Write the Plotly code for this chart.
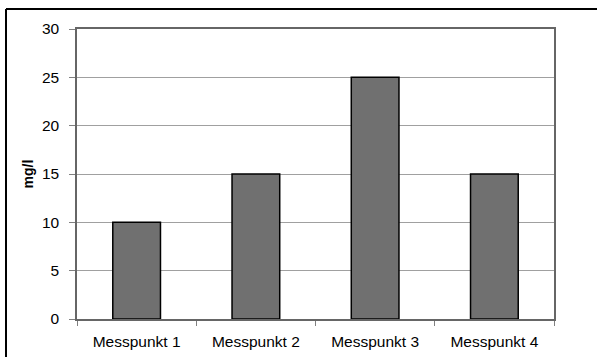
import plotly.graph_objects as go

categories = ["Messpunkt 1", "Messpunkt 2", "Messpunkt 3", "Messpunkt 4"]
values = [10, 15, 25, 15]
y_ticks = [0, 5, 10, 15, 20, 25, 30]

fig = go.Figure(go.Bar(
    x=categories, y=values,
    marker=dict(color="#707070", line=dict(color="#000000", width=1.5)),
    width=0.4,
))

W, H = 597, 357
l, t, r, b = 77, 29, 43, 38
pw, ph = W - l - r, H - t - b

fig.update_layout(
    width=W, height=H,
    margin=dict(l=l, t=t, r=r, b=b, pad=0, autoexpand=False),
    paper_bgcolor="white", plot_bgcolor="white",
    font=dict(family="Liberation Sans, Arial, sans-serif", size=15.5, color="black"),
    showlegend=False,
    xaxis=dict(
        type="category", tickson="boundaries", ticks="outside", ticklen=5,
        tickcolor="#808080", showline=True, linecolor="#666666", linewidth=1.5,
        mirror=True, showgrid=False, tickfont=dict(size=15.5),
        ticklabelstandoff=8, automargin=False,
    ),
    yaxis=dict(
        range=[0, 30], tickvals=y_ticks, ticks="outside", ticklen=6,
        tickcolor="#808080", showline=True, linecolor="#666666", linewidth=1.5,
        mirror=True, showgrid=True, gridcolor="#a0a0a0", gridwidth=1,
        zeroline=False, tickfont=dict(size=15.5), ticklabelstandoff=7,
        automargin=False,
        title=dict(text="<b>mg/l</b>", font=dict(size=14), standoff=5),
    ),
    shapes=[
        dict(type="line", xref="paper", yref="paper",
             x0=(6 - l) / pw, x1=1.2, y0=1 + (t - 9) / ph, y1=1 + (t - 9) / ph,
             line=dict(color="black", width=2)),
        dict(type="line", xref="paper", yref="paper",
             x0=(6 - l) / pw, x1=(6 - l) / pw, y0=1 + (t - 9) / ph, y1=-0.3,
             line=dict(color="black", width=2)),
    ],
)

fig.write_html("out.html", config={"displayModeBar": False},
               post_script="document.body.style.margin='0';document.body.style.overflow='hidden';")
